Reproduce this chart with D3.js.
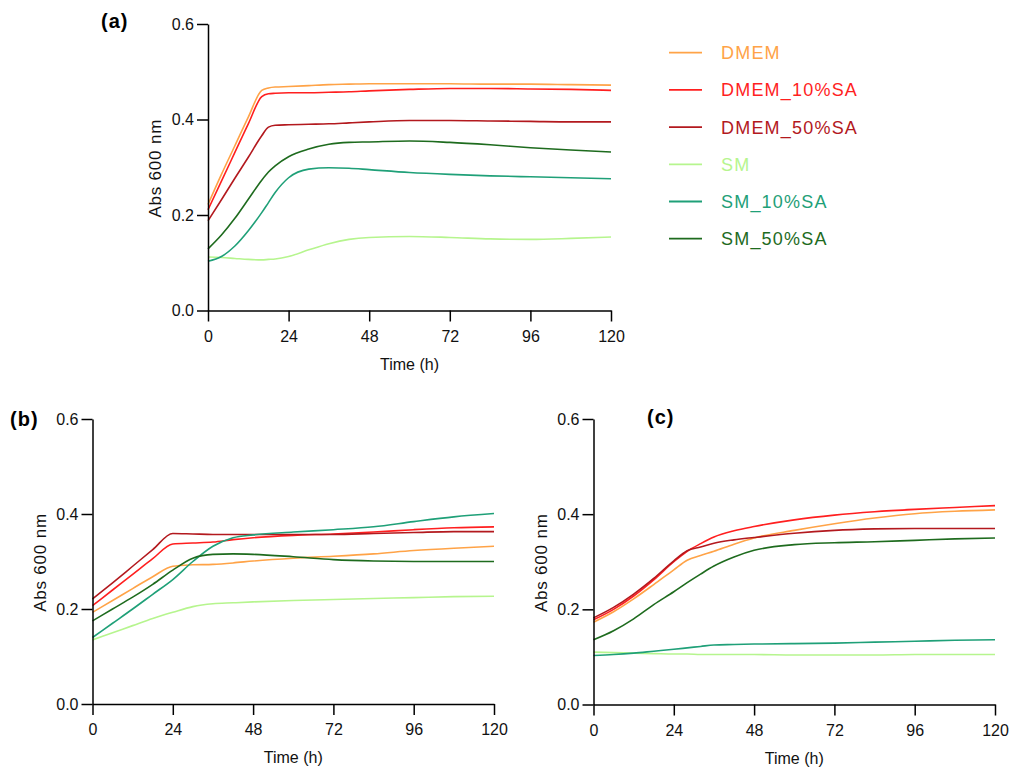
<!DOCTYPE html>
<html>
<head>
<meta charset="utf-8">
<script src="https://cdn.jsdelivr.net/npm/d3@7"></script>
<style>
  body { margin: 0; background: #fff; }
  svg { font-family: "Liberation Sans", Arial, sans-serif; }
  .axis path, .axis line { stroke: #000; stroke-width: 1.5; }
  .axis text { font-size: 16px; fill: #111; }
  .label { font-size: 16px; fill: #111; }
  .panel { font-size: 20px; font-weight: bold; letter-spacing: 1px; }
</style>
</head>
<body>
<svg width="1009" height="769"></svg>
<script>
const seriesNames = ['DMEM', 'DMEM_10%SA', 'DMEM_50%SA', 'SM', 'SM_10%SA', 'SM_50%SA'];
const seriesColors = ['#ffa347', '#ff1f1f', '#b3191e', '#b6f58e', '#1fa078', '#1e6b1e'];
const xTicks = [0, 24, 48, 72, 96, 120];
const yTicks = [0.0, 0.2, 0.4, 0.6];

// panel (a)
const timeA = [0, 4, 8, 12, 16, 18, 20, 24, 30, 36, 42, 48, 60, 72, 84, 96, 108, 120];
const dmemA = [0.222, 0.285, 0.345, 0.405, 0.461, 0.466, 0.468, 0.469, 0.471, 0.473, 0.474, 0.475, 0.475, 0.475, 0.474, 0.474, 0.473, 0.472];
const dmem10A = [0.211, 0.271, 0.331, 0.391, 0.448, 0.454, 0.455, 0.456, 0.456, 0.457, 0.458, 0.460, 0.463, 0.465, 0.465, 0.464, 0.463, 0.461];
const dmem50A = [0.188, 0.232, 0.277, 0.321, 0.366, 0.384, 0.388, 0.389, 0.390, 0.391, 0.393, 0.395, 0.398, 0.398, 0.397, 0.396, 0.395, 0.395];
const smA = [0.112, 0.111, 0.109, 0.107, 0.106, 0.107, 0.108, 0.113, 0.127, 0.140, 0.149, 0.153, 0.155, 0.153, 0.150, 0.149, 0.151, 0.154];
const sm10A = [0.103, 0.113, 0.135, 0.167, 0.205, 0.226, 0.247, 0.278, 0.296, 0.299, 0.298, 0.295, 0.289, 0.285, 0.282, 0.280, 0.278, 0.276];
const sm50A = [0.129, 0.158, 0.193, 0.233, 0.273, 0.290, 0.303, 0.322, 0.338, 0.348, 0.352, 0.353, 0.355, 0.352, 0.347, 0.341, 0.336, 0.332];

// panel (b)
const timeB = [0, 6, 12, 18, 24, 30, 36, 42, 48, 60, 72, 84, 96, 108, 120];
const dmemB = [0.193, 0.218, 0.243, 0.268, 0.290, 0.293, 0.294, 0.297, 0.301, 0.307, 0.311, 0.316, 0.323, 0.328, 0.332];
const dmem10B = [0.207, 0.240, 0.273, 0.306, 0.337, 0.339, 0.341, 0.346, 0.350, 0.355, 0.358, 0.362, 0.367, 0.371, 0.373];
const dmem50B = [0.221, 0.255, 0.290, 0.325, 0.359, 0.358, 0.357, 0.357, 0.357, 0.357, 0.357, 0.359, 0.361, 0.363, 0.363];
const smB = [0.135, 0.150, 0.165, 0.180, 0.193, 0.205, 0.211, 0.213, 0.215, 0.218, 0.220, 0.222, 0.224, 0.226, 0.227];
const sm10B = [0.140, 0.170, 0.200, 0.231, 0.262, 0.300, 0.332, 0.350, 0.356, 0.362, 0.367, 0.373, 0.384, 0.394, 0.401];
const sm50B = [0.175, 0.200, 0.225, 0.252, 0.282, 0.307, 0.315, 0.316, 0.315, 0.310, 0.304, 0.301, 0.300, 0.300, 0.300];

// panel (c)
const timeC = [0, 6, 12, 18, 24, 28, 32, 36, 42, 48, 60, 72, 84, 96, 108, 120];
const dmemC = [0.173, 0.195, 0.222, 0.252, 0.283, 0.303, 0.313, 0.322, 0.337, 0.350, 0.366, 0.380, 0.392, 0.401, 0.406, 0.409];
const dmem10C = [0.178, 0.200, 0.228, 0.262, 0.300, 0.322, 0.338, 0.352, 0.365, 0.374, 0.388, 0.398, 0.405, 0.410, 0.414, 0.418];
const dmem50C = [0.182, 0.204, 0.232, 0.265, 0.302, 0.323, 0.331, 0.339, 0.346, 0.351, 0.360, 0.366, 0.369, 0.370, 0.370, 0.370];
const smC = [0.110, 0.109, 0.108, 0.107, 0.106, 0.106, 0.105, 0.105, 0.105, 0.105, 0.104, 0.104, 0.104, 0.105, 0.105, 0.105];
const sm10C = [0.103, 0.105, 0.108, 0.112, 0.116, 0.119, 0.122, 0.125, 0.126, 0.127, 0.128, 0.129, 0.131, 0.133, 0.135, 0.136];
const sm50C = [0.136, 0.155, 0.180, 0.210, 0.237, 0.256, 0.274, 0.291, 0.310, 0.324, 0.336, 0.340, 0.342, 0.345, 0.348, 0.350];

const svg = d3.select('svg');

function drawPanel(opts) {
  const x = d3.scaleLinear().domain([0, 120]).range([opts.left, opts.right]);
  const y = d3.scaleLinear().domain([0, 0.6]).range([opts.bottom, opts.top]);
  const g = svg.append('g');

  const line = d3.line()
    .x((d) => x(d[0]))
    .y((d) => y(d[1]))
    .curve(d3.curveMonotoneX);

  opts.series.forEach((vals, i) => {
    g.append('path')
      .datum(opts.time.map((t, j) => [t, vals[j]]))
      .attr('fill', 'none')
      .attr('stroke', seriesColors[i])
      .attr('stroke-width', 1.6)
      .attr('d', line);
  });

  g.append('g')
    .attr('class', 'axis')
    .attr('transform', `translate(0, ${opts.bottom})`)
    .call(d3.axisBottom(x).tickValues(xTicks).tickSize(11).tickPadding(9).tickSizeOuter(0));

  g.append('g')
    .attr('class', 'axis')
    .attr('transform', `translate(${opts.left}, 0)`)
    .call(d3.axisLeft(y).tickValues(yTicks).tickFormat(d3.format('.1f')).tickSize(11).tickPadding(3).tickSizeOuter(0));

  g.append('text')
    .attr('class', 'label')
    .attr('x', (opts.left + opts.right) / 2)
    .attr('y', opts.bottom + 59)
    .attr('text-anchor', 'middle')
    .text('Time (h)');

  g.append('text')
    .attr('class', 'label')
    .attr('transform', `translate(${opts.left - 47}, ${(opts.top + opts.bottom) / 2 + 1}) rotate(-90)`)
    .attr('text-anchor', 'middle')
    .style('font-size', '17px')
    .style('letter-spacing', '0.8px')
    .text('Abs 600 nm');

  svg.append('text')
    .attr('class', 'panel')
    .attr('x', opts.tagX)
    .attr('y', opts.tagY)
    .text(opts.tag);
}

drawPanel({ left: 208, right: 611, top: 24, bottom: 310.5,
  time: timeA, series: [dmemA, dmem10A, dmem50A, smA, sm10A, sm50A], tag: '(a)', tagX: 101, tagY: 28 });
drawPanel({ left: 92.5, right: 494, top: 419, bottom: 704,
  time: timeB, series: [dmemB, dmem10B, dmem50B, smB, sm10B, sm50B], tag: '(b)', tagX: 10, tagY: 426 });
drawPanel({ left: 593.5, right: 995, top: 419, bottom: 704.5,
  time: timeC, series: [dmemC, dmem10C, dmem50C, smC, sm10C, sm50C], tag: '(c)', tagX: 647, tagY: 424 });

// legend
const legend = svg.append('g')
  .selectAll('g')
  .data(seriesNames)
  .enter()
  .append('g')
  .attr('transform', (d, i) => `translate(669, ${52.7 + i * 37.2})`);

legend.append('line')
  .attr('x1', 0)
  .attr('x2', 33)
  .attr('stroke', (d, i) => seriesColors[i])
  .attr('stroke-width', 1.8);

legend.append('text')
  .attr('x', 52)
  .attr('y', 6.5)
  .attr('fill', (d, i) => seriesColors[i])
  .style('font-size', '18px')
  .style('letter-spacing', '1.2px')
  .text((d) => d);
</script>
</body>
</html>
